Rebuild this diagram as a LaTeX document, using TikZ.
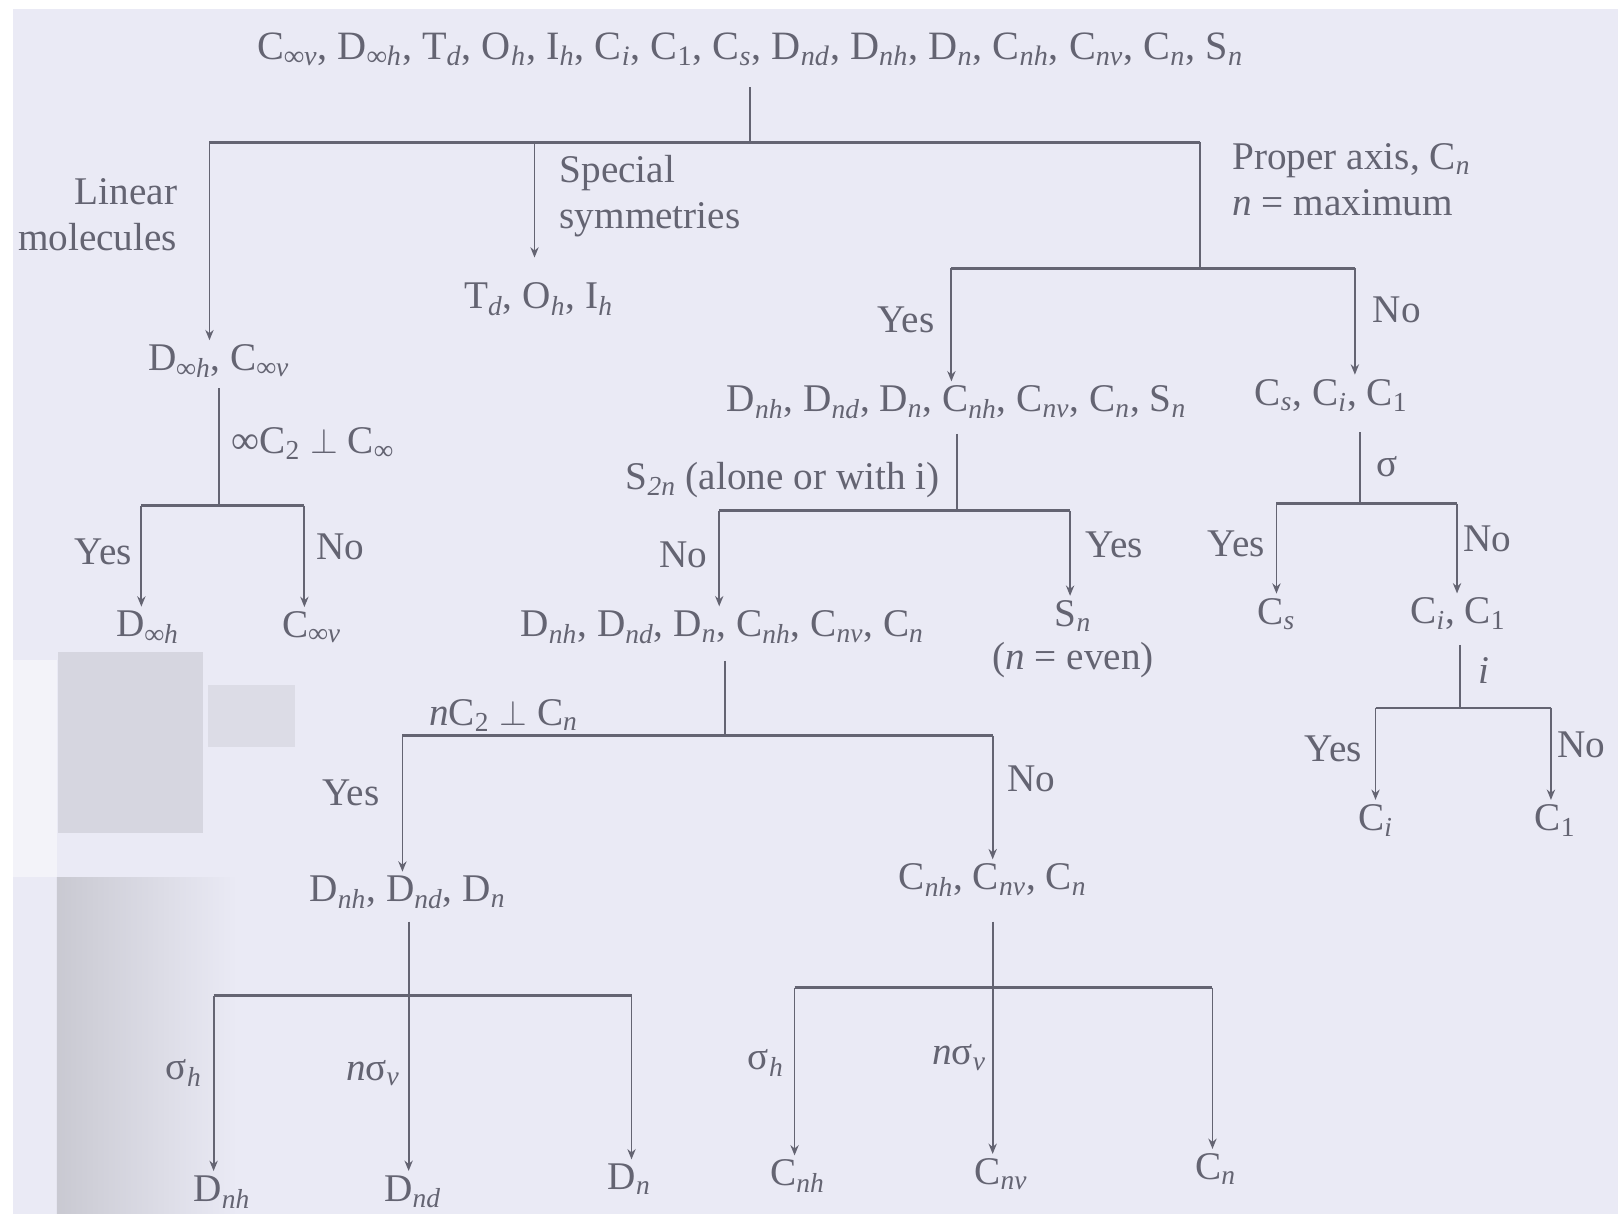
\documentclass[tikz,border=0pt]{standalone}
\usepackage{fontspec}
\setmainfont{Liberation Serif}
\usetikzlibrary{arrows.meta,calc}
\definecolor{PAPER}{HTML}{EAEAF5}
\definecolor{INK}{HTML}{646472}
\definecolor{SMUDGE}{HTML}{D6D6E0}
\newcommand{\sbi}[2]{#1\textsubscript{\itshape #2}}
\newcommand{\sbu}[2]{#1\textsubscript{#2}}

\begin{document}
\begin{tikzpicture}[x=0.5pt,y=-0.5pt]
\tikzset{br/.style={INK,line width=1.3pt},stem/.style={INK,line width=0.9pt,shorten <=3pt},
 arr/.style={INK,line width=0.9pt,-{Stealth[length=5pt,width=4pt]}},
 grp/.style={INK,font=\fontsize{19}{22}\selectfont,inner sep=2pt},
 lbl/.style={INK,font=\fontsize{19}{22}\selectfont,inner sep=2pt,align=left}}
% paper and scan smudges
\fill[white] (0,0) rectangle (1568,1176);
\fill[PAPER] (13,9) rectangle (1568,1176);
\fill[SMUDGE] (56,632) rectangle (197,807);
\fill[SMUDGE!70!PAPER] (202,664) rectangle (286,724);
\fill[white!40!PAPER] (13,640) rectangle (55,850);
\shade[left color=SMUDGE!85!gray,right color=PAPER] (55,850) rectangle (230,1176);
\useasboundingbox (0,0) rectangle (1568,1176);
% groups
\node[grp,font=\fontsize{19.5}{22}\selectfont] (top) at (727,48) {\sbi{C}{∞v}, \sbi{D}{∞h}, \sbi{T}{d}, \sbi{O}{h}, \sbi{I}{h}, \sbi{C}{i}, \sbu{C}{1}, \sbi{C}{s}, \sbi{D}{nd}, \sbi{D}{nh}, \sbi{D}{n}, \sbi{C}{nh}, \sbi{C}{nv}, \sbi{C}{n}, \sbi{S}{n}};
\node[grp] (lin) at (212,350) {\sbi{D}{∞h}, \sbi{C}{∞v}};
\node[grp] (spec) at (522,290) {\sbi{T}{d}, \sbi{O}{h}, \sbi{I}{h}};
\node[grp] (big) at (927,390) {\sbi{D}{nh}, \sbi{D}{nd}, \sbi{D}{n}, \sbi{C}{nh}, \sbi{C}{nv}, \sbi{C}{n}, \sbi{S}{n}};
\node[grp] (cs) at (1290,383) {\sbi{C}{s}, \sbi{C}{i}, \sbu{C}{1}};
\node[grp] (dinf) at (143,608) {\sbi{D}{∞h}};
\node[grp] (cinf) at (302,608) {\sbi{C}{∞v}};
\node[grp] (mid) at (700,608) {\sbi{D}{nh}, \sbi{D}{nd}, \sbi{D}{n}, \sbi{C}{nh}, \sbi{C}{nv}, \sbi{C}{n}};
\node[grp] (sn) at (1040,597) {\sbi{S}{n}};
\node[grp] (even) at (1040,640) {(\textit{n} = even)};
\node[grp] (csn) at (1237,595) {\sbi{C}{s}};
\node[grp] (ci1) at (1413,595) {\sbi{C}{i}, \sbu{C}{1}};
\node[grp] (ci) at (1333,795) {\sbi{C}{i}};
\node[grp] (c1) at (1507,795) {\sbu{C}{1}};
\node[grp] (dgrp) at (395,865) {\sbi{D}{nh}, \sbi{D}{nd}, \sbi{D}{n}};
\node[grp] (cgrp) at (962,853) {\sbi{C}{nh}, \sbi{C}{nv}, \sbi{C}{n}};
\node[grp] (dnh) at (215,1155) {\sbi{D}{nh}};
\node[grp] (dnd) at (400,1155) {\sbi{D}{nd}};
\node[grp] (dn) at (610,1143) {\sbi{D}{n}};
\node[grp] (cnh) at (773,1140) {\sbi{C}{nh}};
\node[grp] (cnv) at (970,1138) {\sbi{C}{nv}};
\node[grp] (cn) at (1178,1133) {\sbi{C}{n}};
% junctions
\coordinate (j0) at (727,138); \coordinate (j0l) at (203,138); \coordinate (j0m) at (518,138); \coordinate (j0r) at (1163,138);
\coordinate (j1) at (1163,260); \coordinate (j1l) at (922,260); \coordinate (j1r) at (1313,260);
\coordinate (j2) at (212,490); \coordinate (j2l) at (137,490); \coordinate (j2r) at (295,490);
\coordinate (j3) at (927,495); \coordinate (j3l) at (697,495); \coordinate (j3r) at (1037,495);
\coordinate (j4) at (1318,488); \coordinate (j4l) at (1237,488); \coordinate (j4r) at (1412,488);
\coordinate (j5) at (1415,686); \coordinate (j5l) at (1333,686); \coordinate (j5r) at (1503,686);
\coordinate (j6) at (703,713); \coordinate (j6l) at (390,713); \coordinate (j6r) at (962,713);
\coordinate (j7) at (396,965); \coordinate (j7l) at (207,965); \coordinate (j7r) at (612,965);
\coordinate (j8) at (962,957); \coordinate (j8l) at (770,957); \coordinate (j8r) at (1175,957);
% tree
\draw[stem,shorten <=8pt] (top) -- (j0); \draw[br] (j0l) -- (j0r);
\draw[arr] (j0l) -- (j0l |- lin.north); \draw[arr,shorten >=10pt] (j0m) -- (j0m |- spec.north);
\draw[stem,shorten <=0pt] (j0r) -- (j1); \draw[br] (j1l) -- (j1r);
\draw[arr] (j1l) -- (j1l |- big.north); \draw[arr] (j1r) -- (j1r |- cs.north);
\draw[stem] (lin) -- (j2); \draw[br] (j2l) -- (j2r);
\draw[arr] (j2l) -- (j2l |- dinf.north); \draw[arr] (j2r) -- (j2r |- cinf.north);
\draw[stem,shorten <=5pt] (big) -- (j3); \draw[br] (j3l) -- (j3r);
\draw[arr] (j3l) -- (j3l |- mid.north); \draw[arr] (j3r) -- (j3r |- sn.north);
\draw[stem,shorten <=8pt] (cs.south -| j4) -- (j4); \draw[br] (j4l) -- (j4r);
\draw[arr] (j4l) -- (j4l |- csn.north); \draw[arr] (j4r) -- (j4r |- ci1.north);
\draw[stem,shorten <=5pt] (ci1.south -| j5) -- (j5); \draw[br] (j5l) -- (j5r);
\draw[arr] (j5l) -- (j5l |- ci.north); \draw[arr] (j5r) -- (j5r |- c1.north);
\draw[stem,shorten <=6pt] (mid.south -| j6) -- (j6); \draw[br] (j6l) -- (j6r);
\draw[arr] (j6l) -- (j6l |- dgrp.north); \draw[arr] (j6r) -- (j6r |- cgrp.north);
\draw[br] (j7l) -- (j7r);
\draw[arr,shorten <=4pt] (dgrp.south -| j7) -- (j7 |- dnd.north);
\draw[arr] (j7l) -- (j7l |- dnh.north); \draw[arr] (j7r) -- (j7r |- dn.north);
\draw[br] (j8l) -- (j8r);
\draw[arr,shorten <=10pt] (cgrp.south -| j8) -- (j8 |- cnv.north);
\draw[arr] (j8l) -- (j8l |- cnh.north); \draw[arr] (j8r) -- (j8r |- cn.north);
% branch labels
\node[lbl,anchor=east,align=right] (linear) at (176,208) {Linear\\molecules};
\node[lbl,anchor=west] (special) at (538,190) {Special\\symmetries};
\node[lbl,anchor=west] (axis) at (1190,174) {Proper axis, \sbi{C}{n}\\\textit{n} = maximum};
\node[lbl,anchor=east] (yes1) at (910,310) {Yes}; \node[lbl,anchor=west] (no1) at (1326,300) {No};
\node[lbl,anchor=west] (perpinf) at (220,430) {∞\sbu{C}{2} $\perp$ \sbu{C}{∞}};
\node[lbl,anchor=east] (yes2) at (132,535) {Yes}; \node[lbl,anchor=west] (no2) at (302,530) {No};
\node[lbl,anchor=east] (stwon) at (915,465) {\sbi{S}{2n} (alone or with i)};
\node[lbl,anchor=east] (no3) at (690,538) {No}; \node[lbl,anchor=west] (yes3) at (1048,528) {Yes};
\node[lbl,anchor=west] (sig) at (1330,452) {σ};
\node[lbl,anchor=east] (yes4) at (1230,527) {Yes}; \node[lbl,anchor=west] (no4) at (1414,522) {No};
\node[lbl,anchor=west] (inv) at (1428,650) {\textit{i}};
\node[lbl,anchor=east] (yes5) at (1324,726) {Yes}; \node[lbl,anchor=west] (no5) at (1505,722) {No};
\node[lbl] (perpn) at (488,693) {\textit{n}\sbu{C}{2} $\perp$ \sbi{C}{n}};
\node[lbl,anchor=east] (yes6) at (372,768) {Yes}; \node[lbl,anchor=west] (no6) at (972,755) {No};
\node[lbl,anchor=east] (sh1) at (200,1040) {\sbi{σ}{h}}; \node[lbl,anchor=east] (nsv1) at (392,1040) {\textit{n}\sbi{σ}{v}};
\node[lbl,anchor=east] (sh2) at (764,1030) {\sbi{σ}{h}}; \node[lbl,anchor=east] (nsv2) at (960,1025) {\textit{n}\sbi{σ}{v}};
\end{tikzpicture}
\end{document}
